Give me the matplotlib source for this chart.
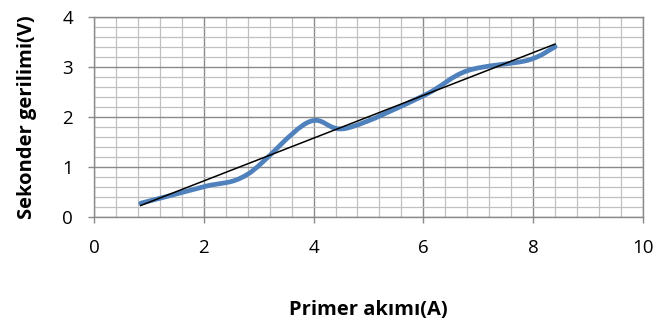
import numpy as np
import matplotlib
matplotlib.use("Agg")
import matplotlib.pyplot as plt
from matplotlib.path import Path
from matplotlib.patches import PathPatch
from matplotlib.ticker import MultipleLocator

# ── Data ──────────────────────────────────────────────────────────────────────
primer_akimi = [0.85, 2.0, 2.8, 3.9, 4.6, 6.0, 6.8, 7.9, 8.4]     # A
sekonder_gerilim = [0.27, 0.6, 0.85, 1.89, 1.77, 2.42, 2.92, 3.13, 3.4]  # V

x_ticks = [0, 2, 4, 6, 8, 10]
y_ticks = [0, 1, 2, 3, 4]


# Excel-style smoothed line: cubic Bezier segments through the points
def smooth_path(xs, ys):
    pts = np.column_stack([xs, ys])
    n = len(pts)
    verts = [pts[0]]
    codes = [Path.MOVETO]
    for i in range(n - 1):
        p0 = pts[max(i - 1, 0)]
        p1 = pts[i]
        p2 = pts[i + 1]
        p3 = pts[min(i + 2, n - 1)]
        c1 = p1 + (p2 - p0) / 6
        c2 = p2 - (p3 - p1) / 6
        verts += [c1, c2, p2]
        codes += [Path.CURVE4] * 3
    return Path(verts, codes)


plt.rcParams["font.family"] = ["Open Sans", "DejaVu Sans"]

fig = plt.figure(figsize=(6.59, 3.23), dpi=100)
ax = fig.add_axes([0.1426, 0.329, 0.833, 0.619])

ax.set_xlim(0, 10)
ax.set_ylim(0, 4)
ax.xaxis.set_minor_locator(MultipleLocator(0.4))
ax.yaxis.set_minor_locator(MultipleLocator(0.2))
ax.set_xticks(x_ticks)
ax.set_yticks(y_ticks)

ax.grid(True, which="minor", color="#c0c0c0", linewidth=0.9)
ax.grid(True, which="major", color="#8a8a8a", linewidth=1.0)
ax.set_axisbelow(True)

for s in ax.spines.values():
    s.set_color("#8a8a8a")
    s.set_linewidth(1.0)

ax.tick_params(which="major", length=4, width=1.0, color="#8a8a8a",
               labelsize=13.5)
ax.tick_params(axis="x", pad=12)
ax.tick_params(axis="y", pad=11)
ax.tick_params(which="minor", length=0)

# smoothed data line
ax.add_patch(PathPatch(smooth_path(primer_akimi, sekonder_gerilim),
                       facecolor="none", edgecolor="#4F81BD", linewidth=3.4,
                       capstyle="round", joinstyle="round", zorder=3))

# linear trendline
k, b = np.polyfit(primer_akimi, sekonder_gerilim, 1)
tx = np.array([min(primer_akimi), max(primer_akimi)])
ax.plot(tx, k * tx + b, color="black", linewidth=1.1, zorder=4)

ax.set_xlabel("Primer akımı(A)", fontsize=14.5, fontweight="bold", labelpad=31)
ax.set_ylabel("Sekonder gerilimi(V)", fontsize=14.5, fontweight="bold", labelpad=18)

fig.savefig("out.png", dpi=100)
